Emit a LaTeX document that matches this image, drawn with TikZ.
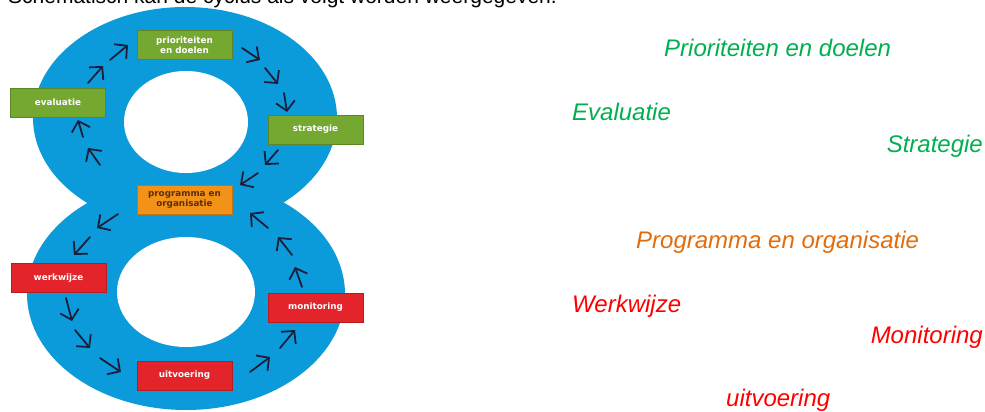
\documentclass[tikz,border=0pt]{standalone}
\usepackage{fontspec}
\setmainfont{Liberation Sans}
\newfontfamily\boxfont{DejaVu Sans}
\usepackage{tikz}
\usetikzlibrary{arrows.meta,positioning}

\definecolor{ringblue}{RGB}{12,155,218}
\definecolor{boxgreen}{RGB}{116,168,48}
\definecolor{boxorange}{RGB}{243,146,24}
\definecolor{boxred}{RGB}{227,36,43}
\definecolor{arrowdark}{RGB}{27,31,59}
\definecolor{labelgreen}{RGB}{0,176,80}
\definecolor{labelorange}{RGB}{228,108,10}
\definecolor{labelred}{RGB}{255,0,0}

\tikzset{
    stepbox/.style={draw=#1!80!black, fill=#1, line width=0.6pt, minimum width=95pt, minimum height=29pt,
        inner sep=1pt, align=center, text=white, font=\boxfont\bfseries\fontsize{8.8}{10}\selectfont},
    cyclearrow/.style={draw=arrowdark, line width=1.8pt, line cap=round, -{Straight Barb[length=9pt,width=19pt]}},
    legendlabel/.style={anchor=base west, inner sep=0pt, font=\itshape\fontsize{24}{28}\selectfont}
}

\begin{document}
\begin{tikzpicture}[x=1pt,y=-1pt]
    \useasboundingbox[fill=white] (0,0) rectangle (985,412);

    % heading, its top runs off the page
    \node[anchor=base west, inner sep=0pt, font=\fontsize{21}{25}\selectfont] (heading) at (8,4)
        {Schematisch kan de cyclus als volgt worden weergegeven.};

    % the blue eight with its two holes
    \fill[ringblue] (185,118) ellipse [x radius=152pt, y radius=111pt];
    \fill[ringblue] (186,294) ellipse [x radius=159pt, y radius=116pt];
    \fill[white] (186,122) ellipse [x radius=62pt, y radius=51pt];
    \fill[white] (186,292) ellipse [x radius=69pt, y radius=55pt];

    % steps of the cycle
    \node[stepbox=boxgreen] (prio) at (184.5,45) {prioriteiten\\en doelen};
    \node[stepbox=boxgreen] (eval) at (58,102.5) {evaluatie};
    \node[stepbox=boxgreen] (strat) at (315.5,129.5) {strategie};
    \node[stepbox=boxorange, text={rgb,255:red,92;green,46;blue,10}] (prog) at (184.5,199.5) {programma en\\organisatie};
    \node[stepbox=boxred] (werk) at (58.5,278) {werkwijze};
    \node[stepbox=boxred] (moni) at (315.5,307.5) {monitoring};
    \node[stepbox=boxred] (uitv) at (184.5,375.5) {uitvoering};

    % short arrows round the eight
    \foreach \n/\tx/\ty/\hx/\hy in {
        a/88/83/103/66, b/110/60/128/45, c/242/48/260/60, d/265/68/278/84,
        e/284/93/287/112, f/278/150/265/165, g/258/173/240/185,
        h/118/214/97/228, i/90/237/74/255, j/66/298/72/321, k/75/330/90/348,
        l/100/358/121/372, m/250/372/270/357, n/280/348/295/330,
        o/302/287/295/267, p/292/255/278/237, q/268/228/250/213,
        r/100/165/88/148, s/83/137/78/120} {
        \coordinate (t\n) at (\tx,\ty);
        \coordinate (h\n) at (\hx,\hy);
        \draw[cyclearrow] (t\n) -- (h\n);
    }

    % names of the steps
    \node[legendlabel, text=labelgreen] (lprio) at (664,57) {Prioriteiten en doelen};
    \node[legendlabel, text=labelgreen] (leval) at (572,120) {Evaluatie};
    \node[legendlabel, text=labelgreen, anchor=base east] (lstrat) at (983,152) {Strategie};
    \node[legendlabel, text=labelorange] (lprog) at (636,248) {Programma en organisatie};
    \node[legendlabel, text=labelred] (lwerk) at (572,312) {Werkwijze};
    \node[legendlabel, text=labelred, anchor=base east] (lmoni) at (983,343) {Monitoring};
    \node[legendlabel, text=labelred] (luitv) at (726,406) {uitvoering};
\end{tikzpicture}
\end{document}
